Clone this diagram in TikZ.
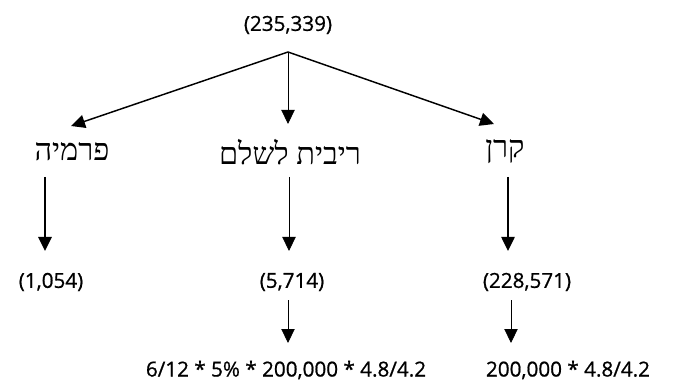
\documentclass[tikz,border=0pt]{standalone}
\usepackage{fontspec}
\setmainfont{Open Sans}
\newfontfamily\numfont{Open Sans}[RawFeature={embolden=0.8}]
\newfontfamily\hebfont[Script=Hebrew]{Liberation Serif}
\TeXXeTstate=1
\usetikzlibrary{arrows.meta}
\begin{document}
\begin{tikzpicture}[x=0.75pt,y=-0.75pt,
  num/.style={font=\numfont\fontsize{15.5}{18}\selectfont, inner sep=0pt},
  heb/.style={font=\hebfont\fontsize{23}{26}\selectfont, inner sep=0pt},
  tip/.style={-{Triangle[length=10.5pt,width=10pt]}},
  arr/.style={tip,line width=1.1pt},
  thickarr/.style={tip,line width=1.4pt},
  thinarr/.style={tip,line width=0.6pt}]
\useasboundingbox (0,0) rectangle (675,392);
\node[num] (top) at (288,25) {(235,339)};
\coordinate (apex) at (288,52);
\coordinate (tl) at (71,126);
\coordinate (tm) at (288,124);
\coordinate (tr) at (494,124);
\draw[arr] (apex) -- (tl);
\draw[thinarr] (apex) -- (tm);
\draw[arr] (apex) -- (tr);
\node[heb] (prem) at (72,152) {\beginR פרמיה\endR};
\node[heb] (ribit) at (290,152) {\beginR ריבית לשלם\endR};
\node[heb] (keren) at (505,152) {\beginR קרן\endR};
\coordinate (l1) at (45,177); \coordinate (l2) at (45,251);
\coordinate (m1) at (289,177); \coordinate (m2) at (289,251);
\coordinate (r1) at (508,177); \coordinate (r2) at (508,251);
\draw[thickarr] (l1) -- (l2);
\draw[thinarr] (m1) -- (m2);
\draw[arr] (r1) -- (r2);
\node[num] (a) at (51,282) {(1,054)};
\node[num] (b) at (292,282) {(5,714)};
\node[num] (c) at (527,282) {(228,571)};
\coordinate (m3) at (288,300); \coordinate (m4) at (288,343);
\coordinate (r3) at (511,300); \coordinate (r4) at (511,343);
\draw[thinarr] (m3) -- (m4);
\draw[thinarr] (r3) -- (r4);
\node[num] (f1) at (286,370) {6/12 * 5\% * 200,000 * 4.8/4.2};
\node[num] (f2) at (568,370) {200,000 * 4.8/4.2};
\end{tikzpicture}
\end{document}
